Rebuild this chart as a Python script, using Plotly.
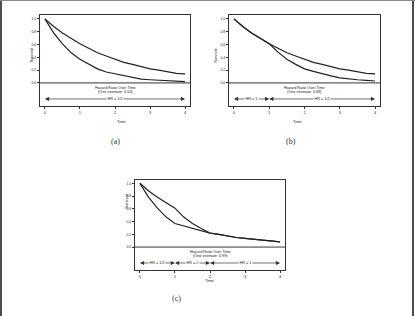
import plotly.graph_objects as go

# ---- data ----
time = [0, 0.25, 0.5, 0.75, 1, 1.25, 1.5, 1.75, 2, 2.25, 2.5, 2.75, 3, 3.25, 3.5, 3.75, 4]
a_upper = [1.00, 0.88, 0.78, 0.69, 0.61, 0.54, 0.47, 0.42, 0.37, 0.32, 0.29, 0.25, 0.22, 0.20, 0.17, 0.15, 0.14]
a_lower = [1.00, 0.78, 0.61, 0.47, 0.37, 0.29, 0.22, 0.17, 0.14, 0.11, 0.08, 0.06, 0.05, 0.04, 0.03, 0.02, 0.02]
b_upper = [1.00, 0.88, 0.78, 0.69, 0.61, 0.54, 0.47, 0.42, 0.37, 0.32, 0.29, 0.25, 0.22, 0.20, 0.17, 0.15, 0.14]
b_lower = [1.00, 0.88, 0.78, 0.69, 0.61, 0.48, 0.37, 0.29, 0.22, 0.18, 0.14, 0.11, 0.08, 0.06, 0.05, 0.04, 0.03]
c_upper = [1.00, 0.88, 0.78, 0.69, 0.61, 0.47, 0.37, 0.29, 0.22, 0.20, 0.17, 0.15, 0.135, 0.12, 0.105, 0.093, 0.082]
c_lower = [1.00, 0.78, 0.61, 0.47, 0.37, 0.33, 0.29, 0.25, 0.22, 0.20, 0.17, 0.15, 0.135, 0.12, 0.105, 0.093, 0.082]

x_ticks = [0, 1, 2, 3, 4]
y_ticks = [0.0, 0.2, 0.4, 0.6, 0.8, 1.0]
y_ticktext = ["0.0", "0.2", "0.4", "0.6", "0.8", "1.0"]

a_segments = [(0, 4, "HR = 1/2")]
b_segments = [(0, 1, "HR = 1"), (1, 4, "HR = 1/2")]
c_segments = [(0, 1, "HR = 1/2"), (1, 2, "HR = 2"), (2, 4, "HR = 1")]

a_note = "(One estimate: 0.50)"
b_note = "(One estimate: 0.68)"
c_note = "(One estimate: 0.99)"
labels = ["(a)", "(b)", "(c)"]

W, H = 415, 316
def px(x): return x / W
def py(y): return 1 - y / H

panels = [
    ("", [a_upper, a_lower], a_segments, a_note, (40, 190), (15, 106), (109, 142)),
    ("2", [b_upper, b_lower], b_segments, b_note, (229, 380), (15, 106), (298, 142)),
    ("3", [c_upper, c_lower], c_segments, c_note, (135, 285), (179.5, 270), (176, 305)),
]

fig = go.Figure()
FONT = "Liberation Sans"
TXT = "#222"
annotations = []
shapes = []
for i, (suf, curves, segs, note, xr, yr, lab) in enumerate(panels):
    xa = "x" + suf
    ya = "y" + suf
    for c in curves:
        fig.add_trace(go.Scatter(x=time, y=c, mode="lines", xaxis=xa, yaxis=ya,
                                 line=dict(color="#222", width=1.2), showlegend=False,
                                 hoverinfo="skip"))
    axis_x = dict(domain=[px(xr[0]), px(xr[1])], range=[-0.14, 4.14], anchor=ya,
                  showgrid=False, zeroline=False, showline=True, mirror=True,
                  linecolor="#333", linewidth=1, ticks="outside", ticklen=2,
                  tickwidth=0.6, tickcolor="#333", tickvals=x_ticks,
                  ticktext=[str(v) for v in x_ticks],
                  tickfont=dict(size=4, family=FONT, color=TXT))
    axis_y = dict(domain=[py(yr[1]), py(yr[0])], range=[-0.36, 1.06], anchor=xa,
                  showgrid=False, zeroline=False, showline=True, mirror=True,
                  linecolor="#333", linewidth=1, ticks="outside", ticklen=2,
                  tickwidth=0.6, tickcolor="#333", tickvals=y_ticks, ticktext=y_ticktext,
                  tickfont=dict(size=3.5, family=FONT, color=TXT))
    fig.layout["xaxis" + suf] = axis_x
    fig.layout["yaxis" + suf] = axis_y
    shapes.append(dict(type="line", xref=xa + " domain", yref=ya, x0=0, x1=1, y0=0, y1=0,
                       line=dict(color="#333", width=1)))
    annotations.append(dict(x=2, y=-0.085, xref=xa, yref=ya, showarrow=False,
                            text="Hazard Ratio Over Time", font=dict(size=3.8, family=FONT, color=TXT)))
    annotations.append(dict(x=2, y=-0.135, xref=xa, yref=ya, showarrow=False,
                            text=note, font=dict(size=3.8, family=FONT, color=TXT)))
    for (s0, s1, t) in segs:
        for (head, tail) in [(s1, s0), (s0, s1)]:
            annotations.append(dict(x=head, y=-0.25, ax=(head + tail) / 2, ay=-0.25,
                                    xref=xa, yref=ya, axref=xa, ayref=ya, text="",
                                    showarrow=True, arrowhead=2, arrowsize=1.2,
                                    arrowwidth=0.7, arrowcolor="#333", standoff=0))
        annotations.append(dict(x=(s0 + s1) / 2, y=-0.25, xref=xa, yref=ya, showarrow=False,
                                text=t, bgcolor="white", borderpad=0.5,
                                font=dict(size=3.8, family=FONT, color=TXT)))
    annotations.append(dict(x=(xr[0] + xr[1]) / 2 / W, y=py(yr[1] + 15), xref="paper", yref="paper",
                            showarrow=False, text="Time", font=dict(size=4, family=FONT, color=TXT)))
    annotations.append(dict(x=px(xr[0] - 13), y=py(yr[0] + (yr[1] - yr[0]) * 0.35), xref="paper", yref="paper",
                            showarrow=False, text="Survival", textangle=-90,
                            font=dict(size=4, family=FONT, color=TXT)))
    annotations.append(dict(x=px(lab[0]), y=py(lab[1]), xref="paper", yref="paper",
                            showarrow=False, text=labels[i],
                            font=dict(size=8, family="Liberation Serif", color="#333")))

shapes.append(dict(type="line", xref="paper", yref="paper", x0=0, x1=1, y0=py(0.5), y1=py(0.5),
                   line=dict(color="#888", width=1)))
shapes.append(dict(type="line", xref="paper", yref="paper", x0=px(1), x1=px(1), y0=0, y1=py(1),
                   line=dict(color="#111", width=1.5)))
shapes.append(dict(type="line", xref="paper", yref="paper", x0=px(413), x1=px(413), y0=0, y1=py(1),
                   line=dict(color="#111", width=1.5)))

fig.update_layout(width=W, height=H, margin=dict(l=0, r=0, t=0, b=0),
                  paper_bgcolor="white", plot_bgcolor="white",
                  annotations=annotations, shapes=shapes, showlegend=False)
fig.write_html("out.html")
